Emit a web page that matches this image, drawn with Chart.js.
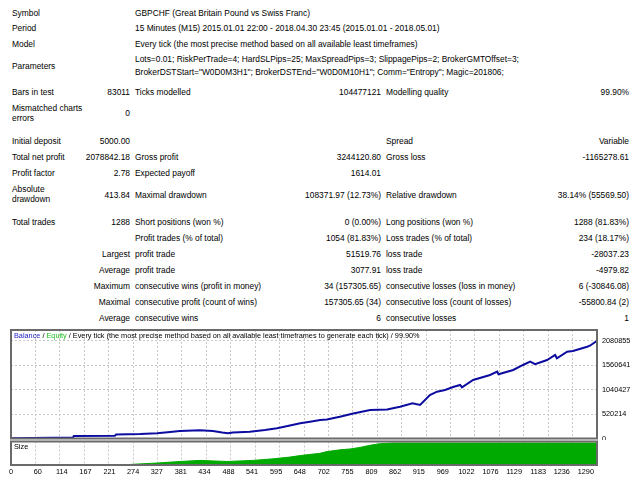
<!DOCTYPE html>
<html>
<head>
<meta charset="utf-8">
<title>Strategy Tester Report GBPCHF</title>
<script src="https://cdn.jsdelivr.net/npm/chart.js@4.4.1/dist/chart.umd.min.js"></script>
<style>
    body { margin: 0; background: #fff; }
    #page { position: relative; width: 640px; height: 480px; overflow: hidden;
            font: 8.4px "Liberation Sans", Arial, sans-serif; color: #000; }
    .t { position: absolute; white-space: nowrap; line-height: 10px; }
    .a { left: 12px; }
    .b { right: 510px; text-align: right; }
    .c { left: 135px; }
    .d { right: 259px; text-align: right; }
    .e { left: 386px; }
    .f { right: 11px; text-align: right; }
    .s { font-size: 7.3px; }
    canvas { position: absolute; left: 0; }
</style>
</head>
<body>
<div id="page">
    <div class="t a" style="top:8px">Symbol</div>
    <div class="t c" style="top:8px">GBPCHF (Great Britain Pound vs Swiss Franc)</div>
    <div class="t a" style="top:23px">Period</div>
    <div class="t c" style="top:23px">15 Minutes (M15) 2015.01.01 22:00 - 2018.04.30 23:45 (2015.01.01 - 2018.05.01)</div>
    <div class="t a" style="top:39px">Model</div>
    <div class="t c" style="top:39px">Every tick (the most precise method based on all available least timeframes)</div>
    <div class="t a" style="top:61px">Parameters</div>
    <div class="t c" style="top:54px">Lots=0.01; RiskPerTrade=4; HardSLPips=25; MaxSpreadPips=3; SlippagePips=2; BrokerGMTOffset=3;</div>
    <div class="t c" style="top:67px">BrokerDSTStart="W0D0M3H1"; BrokerDSTEnd="W0D0M10H1"; Comm="Entropy"; Magic=201806;</div>

    <div class="t a" style="top:87px">Bars in test</div>
    <div class="t b" style="top:87px">83011</div>
    <div class="t c" style="top:87px">Ticks modelled</div>
    <div class="t d" style="top:87px">104477121</div>
    <div class="t e" style="top:87px">Modelling quality</div>
    <div class="t f" style="top:87px">99.90%</div>
    <div class="t a" style="top:103px">Mismatched charts<br>errors</div>
    <div class="t b" style="top:108px">0</div>

    <div class="t a" style="top:136px">Initial deposit</div>
    <div class="t b" style="top:136px">5000.00</div>
    <div class="t e" style="top:136px">Spread</div>
    <div class="t f" style="top:136px">Variable</div>
    <div class="t a" style="top:152px">Total net profit</div>
    <div class="t b" style="top:152px">2078842.18</div>
    <div class="t c" style="top:152px">Gross profit</div>
    <div class="t d" style="top:152px">3244120.80</div>
    <div class="t e" style="top:152px">Gross loss</div>
    <div class="t f" style="top:152px">-1165278.61</div>
    <div class="t a" style="top:168px">Profit factor</div>
    <div class="t b" style="top:168px">2.78</div>
    <div class="t c" style="top:168px">Expected payoff</div>
    <div class="t d" style="top:168px">1614.01</div>
    <div class="t a" style="top:184px">Absolute<br>drawdown</div>
    <div class="t b" style="top:190px">413.84</div>
    <div class="t c" style="top:190px">Maximal drawdown</div>
    <div class="t d" style="top:190px">108371.97 (12.73%)</div>
    <div class="t e" style="top:190px">Relative drawdown</div>
    <div class="t f" style="top:190px">38.14% (55569.50)</div>

    <div class="t a" style="top:217px">Total trades</div>
    <div class="t b" style="top:217px">1288</div>
    <div class="t c" style="top:217px">Short positions (won %)</div>
    <div class="t d" style="top:217px">0 (0.00%)</div>
    <div class="t e" style="top:217px">Long positions (won %)</div>
    <div class="t f" style="top:217px">1288 (81.83%)</div>
    <div class="t c" style="top:233px">Profit trades (% of total)</div>
    <div class="t d" style="top:233px">1054 (81.83%)</div>
    <div class="t e" style="top:233px">Loss trades (% of total)</div>
    <div class="t f" style="top:233px">234 (18.17%)</div>
    <div class="t b" style="top:249px">Largest</div>
    <div class="t c" style="top:249px">profit trade</div>
    <div class="t d" style="top:249px">51519.76</div>
    <div class="t e" style="top:249px">loss trade</div>
    <div class="t f" style="top:249px">-28037.23</div>
    <div class="t b" style="top:265px">Average</div>
    <div class="t c" style="top:265px">profit trade</div>
    <div class="t d" style="top:265px">3077.91</div>
    <div class="t e" style="top:265px">loss trade</div>
    <div class="t f" style="top:265px">-4979.82</div>
    <div class="t b" style="top:281px">Maximum</div>
    <div class="t c" style="top:281px">consecutive wins (profit in money)</div>
    <div class="t d" style="top:281px">34 (157305.65)</div>
    <div class="t e" style="top:281px">consecutive losses (loss in money)</div>
    <div class="t f" style="top:281px">6 (-30846.08)</div>
    <div class="t b" style="top:297px">Maximal</div>
    <div class="t c" style="top:297px">consecutive profit (count of wins)</div>
    <div class="t d" style="top:297px">157305.65 (34)</div>
    <div class="t e" style="top:297px">consecutive loss (count of losses)</div>
    <div class="t f" style="top:297px">-55800.84 (2)</div>
    <div class="t b" style="top:313px">Average</div>
    <div class="t c" style="top:313px">consecutive wins</div>
    <div class="t d" style="top:313px">6</div>
    <div class="t e" style="top:313px">consecutive losses</div>
    <div class="t f" style="top:313px">1</div>

    <canvas id="balanceChart" width="640" height="112" style="top:328px"></canvas>
    <canvas id="sizeChart" width="640" height="40" style="top:440px"></canvas>

    <div class="t s" style="left:14px;top:331px"><span style="color:#1c1cc0">Balance</span> / <span style="color:#22c022">Equity</span> / Every tick (the most precise method based on all available least timeframes to generate each tick) / 99.90%</div>
    <div class="t s" style="left:14px;top:442px">Size</div>
</div>

<script>
    // trade axis labels and balance axis ticks
    var xTickLabels = [0, 60, 114, 167, 221, 274, 327, 381, 434, 488, 541, 595, 648,
                       702, 755, 809, 862, 915, 969, 1022, 1076, 1129, 1183, 1236, 1290];
    var yTickValues = [0, 520214, 1040427, 1560641, 2080855];

    // balance curve
    var balanceTrade = [0, 139, 141, 233, 236, 290, 328, 357, 379, 424, 453, 474, 487, 498,
                        536, 570, 597, 626, 649, 671, 694, 709, 738, 768, 806, 844, 857, 873,
                        901, 918, 940, 956, 974, 992, 1008, 1012, 1037, 1075, 1091, 1094, 1127,
                        1149, 1165, 1176, 1203, 1221, 1225, 1248, 1261, 1293, 1299, 1315];
    var balanceValue = [5000, 20000, 52000, 58000, 88000, 96000, 111000, 139000, 160000, 175000,
                        160000, 128000, 111000, 128000, 145000, 181000, 218000, 277000, 324000,
                        358000, 395000, 405000, 465000, 534000, 608000, 619000, 645000, 679000,
                        751000, 715000, 928000, 999000, 1035000, 1099000, 1142000, 1093000,
                        1248000, 1355000, 1426000, 1370000, 1462000, 1569000, 1639000, 1585000,
                        1675000, 1782000, 1712000, 1852000, 1867000, 1959000, 1980000, 2083842];

    // lot size per trade
    var sizeTrade = [0, 260, 263, 328, 379, 424, 485, 543, 588, 626, 649, 693, 709, 738,
                     761, 783, 806, 828, 855, 1315];
    var sizeLots = [0.5, 1.5, 2, 9, 16, 21, 16, 21, 28, 36, 43, 53, 61, 69, 73, 80, 90, 97, 100, 100];

    var xMax = 1315;
    var gridStep = xMax / 24;

    Chart.defaults.font.family = '"Liberation Sans", Arial, sans-serif';
    Chart.defaults.font.size = 7.3;
    Chart.defaults.color = '#000';

    function points(xs, ys) {
        return xs.map(function (x, i) { return { x: x, y: ys[i] }; });
    }

    // pin an axis to a fixed size and drop the label overhang padding
    function pin(w, h) {
        return function (s) {
            if (w !== null) s.width = w;
            if (h !== null) s.height = h;
            s.paddingTop = 0; s.paddingBottom = 0;
            s.paddingLeft = 0; s.paddingRight = 0;
        };
    }

    var gridTicks = [];
    for (var k = 0; k <= 24; k++) gridTicks.push({ value: k * gridStep });

    var framePlugin = {
        id: 'frame',
        afterDraw: function (chart) {
            var a = chart.chartArea, ctx = chart.ctx;
            ctx.save();
            ctx.strokeStyle = '#6a6a6a';
            ctx.lineWidth = 2;
            ctx.strokeRect(a.left, a.top, a.right - a.left, a.bottom - a.top);
            ctx.restore();
        }
    };

    var gridStyle = { color: '#c8c8c8', drawTicks: false };

    new Chart(document.getElementById('balanceChart').getContext('2d'), {
        type: 'line',
        data: {
            datasets: [{
                label: 'Balance',
                data: points(balanceTrade, balanceValue),
                borderColor: '#0c0ca0',
                borderWidth: 2,
                pointRadius: 0,
                tension: 0,
                fill: false
            }]
        },
        options: {
            responsive: false,
            animation: false,
            layout: { padding: { left: 11, top: 2, bottom: 1.5 } },
            plugins: { legend: { display: false }, tooltip: { enabled: false } },
            scales: {
                x: {
                    type: 'linear', min: 0, max: xMax,
                    afterBuildTicks: function (s) { s.ticks = gridTicks.slice(); },
                    afterFit: pin(null, 0),
                    ticks: { display: false },
                    grid: gridStyle,
                    border: { display: false, dash: [2, 2] }
                },
                y: {
                    position: 'right', min: 0, max: 2315600,
                    afterBuildTicks: function (s) {
                        s.ticks = yTickValues.map(function (v) { return { value: v }; });
                    },
                    afterFit: pin(43, null),
                    ticks: { padding: 5, callback: function (v) { return String(v); } },
                    grid: gridStyle,
                    border: { display: false, dash: [2, 2] }
                }
            }
        },
        plugins: [framePlugin]
    });

    new Chart(document.getElementById('sizeChart').getContext('2d'), {
        type: 'line',
        data: {
            datasets: [{
                label: 'Size',
                data: points(sizeTrade, sizeLots),
                borderColor: '#00aa00',
                backgroundColor: '#00aa00',
                borderWidth: 1,
                pointRadius: 0,
                tension: 0,
                fill: 'origin'
            }]
        },
        options: {
            responsive: false,
            animation: false,
            layout: { padding: { left: 11, right: 43, top: 1.5 } },
            plugins: { legend: { display: false }, tooltip: { enabled: false } },
            scales: {
                x: {
                    type: 'linear', min: 0, max: xMax,
                    afterBuildTicks: function (s) {
                        s.ticks = xTickLabels.map(function (v) { return { value: v }; });
                    },
                    afterFit: pin(null, 15),
                    ticks: { padding: 3, autoSkip: false, maxRotation: 0,
                             callback: function (v) { return String(v); } },
                    grid: { display: false, drawTicks: false },
                    border: { display: false }
                },
                xg: {
                    type: 'linear', position: 'bottom', min: 0, max: xMax,
                    afterBuildTicks: function (s) { s.ticks = gridTicks.slice(); },
                    afterFit: pin(null, 0),
                    ticks: { display: false },
                    grid: gridStyle,
                    border: { display: false, dash: [2, 2] }
                },
                y: { display: false, min: 0, max: 107 }
            }
        },
        plugins: [framePlugin]
    });
</script>
</body>
</html>
